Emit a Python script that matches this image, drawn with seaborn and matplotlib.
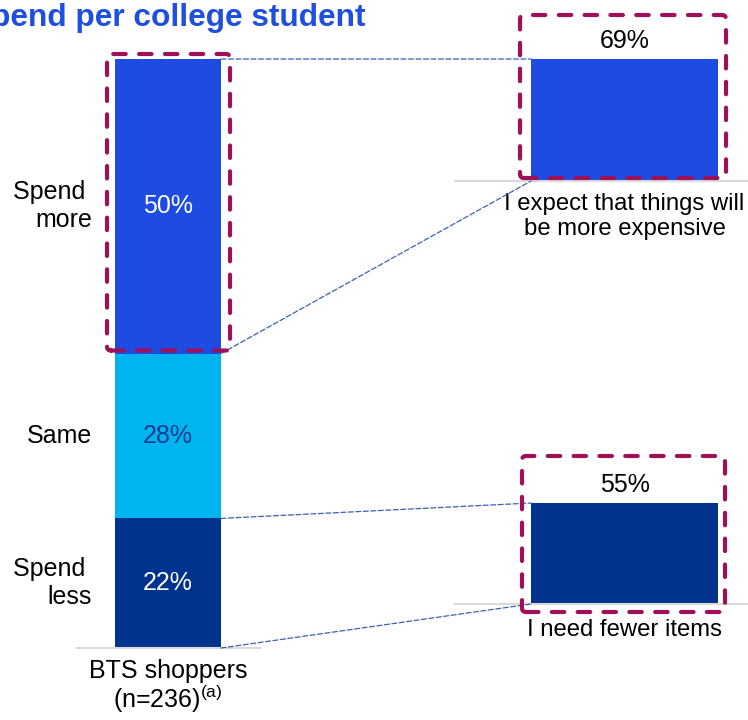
import numpy as np
import matplotlib.pyplot as plt
import matplotlib.transforms as mtransforms
from matplotlib.patches import ConnectionPatch, FancyBboxPatch
import seaborn as sns

### data
group = ['BTS shoppers\n(n=236)$^{\\mathrm{(a)}}$']
segments = ['Spend \nless', 'Same', 'Spend \nmore']
shares = [22, 28, 50]
seg_colors = ['#00338D', '#00B4F0', '#1E4BE2']
pct_colors = ['white', '#0B3A94', 'white']

reason_more = ['I expect that things will\nbe more expensive']
reason_more_val = [69]
reason_less = ['I need fewer items']
reason_less_val = [55]

title = 'Spend per college student'

sns.set_theme(style='white')
plt.rcParams['font.family'] = ['Liberation Sans', 'DejaVu Sans']
plt.rcParams['text.color'] = 'black'
plt.rcParams['mathtext.fontset'] = 'custom'
plt.rcParams['mathtext.rm'] = 'Liberation Sans'
plt.rcParams['mathtext.it'] = 'Liberation Sans:italic'
plt.rcParams['mathtext.bf'] = 'Liberation Sans:bold'

W, H = 748, 720
fig = plt.figure(figsize=(W / 100, H / 100), dpi=100)

def px_axes(x0, y_bottom, width, height):
    # pixel box (top-left origin) -> figure fraction
    return fig.add_axes([x0 / W, (H - y_bottom) / H, width / W, height / H])

GRAY = '#D9D9D9'
FS = 18

def style_ax(ax, fs=FS):
    ax.set_ylim(0, 100)
    ax.set_yticks([])
    ax.set_xlabel('')
    ax.set_ylabel('')
    sns.despine(ax=ax, left=True)
    ax.spines['bottom'].set_color(GRAY)
    ax.spines['bottom'].set_linewidth(1.5)
    ax.tick_params(axis='x', length=0, labelsize=fs, labelcolor='black')
    ax.patch.set_alpha(0)

### left stacked bar (layered cumulative bars)
ax = px_axes(76.5, 648, 183, 589)
tops = np.cumsum(shares)
bar_w = 106 / 183
for top, col in zip(tops[::-1], seg_colors[::-1]):
    sns.barplot(x=group, y=[top], color=col, saturation=1, width=bar_w,
                linewidth=0, ax=ax)
ax.set_xlim(-0.5, 0.5)
style_ax(ax)
ax.tick_params(axis='x', pad=8)
for t in ax.get_xticklabels():
    t.set_linespacing(1.0)

for top, s, lab, tc in zip(tops, shares, segments, pct_colors):
    mid = top - s / 2
    ax.text(0, mid, f'{s}%', ha='center', va='center', color=tc, fontsize=FS)
    ax.text(0.085, mid, lab, transform=ax.get_yaxis_transform(),
            ha='right', va='center', multialignment='right', fontsize=FS,
            color='black')

### right bars
def right_bar(y_base, scale, names, vals, col, pad_lbl):
    a = px_axes(455, y_base, 293, scale * 100)
    sns.barplot(x=names, y=vals, color=col, saturation=1, width=187 / 293,
                linewidth=0, ax=a)
    a.set_xlim(-0.5785, 0.4215)
    style_ax(a, fs=17.2)
    a.tick_params(axis='x', pad=pad_lbl)
    a.bar_label(a.containers[0], fmt='%g%%', padding=4, fontsize=FS,
                color='black')
    return a

ax_top = right_bar(181, 122 / 69, reason_more, reason_more_val, seg_colors[2], 8.5)
ax_bot = right_bar(604, 101 / 55, reason_less, reason_less_val, seg_colors[0], 11)

### connectors
def edge(a, side):
    p = a.patches[-1] if a is ax else a.patches[0]
    return p.get_x() + (p.get_width() if side == 'r' else 0)

links = [
    (tops[2], ax_top, reason_more_val[0]),
    (tops[1], ax_top, 0),
    (tops[0], ax_bot, reason_less_val[0]),
    (0, ax_bot, 0),
]
for ya, axb, yb in links:
    con = ConnectionPatch(xyA=(edge(ax, 'r'), ya), coordsA=ax.transData,
                          xyB=(edge(axb, 'l'), yb), coordsB=axb.transData,
                          color='#3A62B5', lw=0.9, ls=(0, (4, 2)), zorder=1)
    fig.add_artist(con)

### dashed highlight boxes
MAROON = '#9E1058'

def box(a, x0, x1, y0, y1, pl, pr, pt, pb):
    (dx0, dy0), (dx1, dy1) = a.transData.transform([(x0, y0), (x1, y1)])
    bx = FancyBboxPatch((dx0 - pl, dy0 - pb), (dx1 - dx0) + pl + pr,
                        (dy1 - dy0) + pb + pt,
                        boxstyle='round,pad=0,rounding_size=4',
                        transform=mtransforms.IdentityTransform(),
                        fill=False, ec=MAROON, lw=3, ls=(0, (3, 3.2)),
                        capstyle='round', zorder=5)
    fig.add_artist(bx)

b = ax.patches[0]
box(ax, b.get_x(), b.get_x() + b.get_width(), tops[1], tops[2], 8, 9, 5, -3)
b = ax_top.patches[0]
box(ax_top, b.get_x(), b.get_x() + b.get_width(), 0, reason_more_val[0], 11, 8, 44, -3)
b = ax_bot.patches[0]
box(ax_bot, b.get_x(), b.get_x() + b.get_width(), 0, reason_less_val[0], 9, 7, 47, 8)

### title (cut off at the left edge, as in the source)
fig.text(365 / W, 1 - 26 / H, title, ha='right', va='baseline',
         fontsize=22.8, fontweight='bold', color='#1F4FE0')

fig.savefig('out.png', dpi=100)
